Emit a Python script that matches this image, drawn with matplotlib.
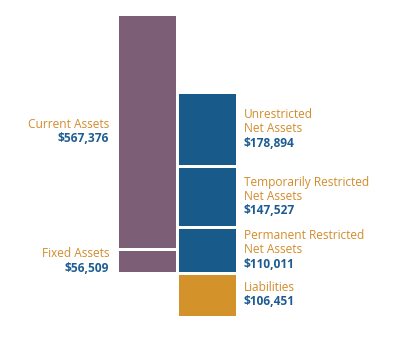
import matplotlib
matplotlib.use("Agg")
import matplotlib.pyplot as plt

# Data
asset_labels = ["Fixed Assets", "Current Assets"]
asset_values = [56509, 567376]
liab_labels = ["Liabilities", "Permanent Restricted\nNet Assets",
               "Temporarily Restricted\nNet Assets", "Unrestricted\nNet Assets"]
liab_values = [106451, 110011, 147527, 178894]

PURPLE = "#7c5f77"
BLUE = "#185a8a"
GOLD = "#d4922a"
LABEL_C = "#d28c2c"
VALUE_C = "#1d5c92"

W, H = 400, 337
fig = plt.figure(figsize=(W / 100, H / 100), dpi=100)
ax = fig.add_axes([0, 0, 1, 1])
ax.set_axis_off()

total_top = liab_values[0] + sum(asset_values)
k = (316.7 - 14.3) / total_top          # px per unit
bottom_px = H - 316.7
ax.set_xlim(0, W)
ax.set_ylim(-bottom_px / k, (H - bottom_px) / k)

font = ["Open Sans", "DejaVu Sans"]
fs = 8.6
pitch = 14.3 / k
gap = 3 / 100 * 72  # linewidth points for ~3px gap


def block(x, center, label, value, ha):
    lines = label.split("\n") + [f"${value:,}"]
    n = len(lines)
    y0 = center + (n - 1) * pitch / 2
    for j, ln in enumerate(lines):
        is_val = j == n - 1
        ax.text(x, y0 - j * pitch, ln, ha=ha, va="center",
                color=VALUE_C if is_val else LABEL_C, fontsize=fs, family=font,
                fontweight="bold" if is_val else "normal")


left_x, right_x, bw = 147, 207, 60
base = liab_values[0]
for lab, val in zip(asset_labels, asset_values):
    ax.bar(left_x, val, bottom=base, width=bw, color=PURPLE,
           edgecolor="white", linewidth=gap)
    block(109, base + val / 2, lab, val, "right")
    base += val

base = 0
for i, (lab, val) in enumerate(zip(liab_labels, liab_values)):
    col = GOLD if i == 0 else BLUE
    ax.bar(right_x, val, bottom=base, width=bw, color=col,
           edgecolor="white", linewidth=gap)
    block(244, base + val / 2, lab, val, "left")
    base += val

fig.savefig("out.png", dpi=100)
